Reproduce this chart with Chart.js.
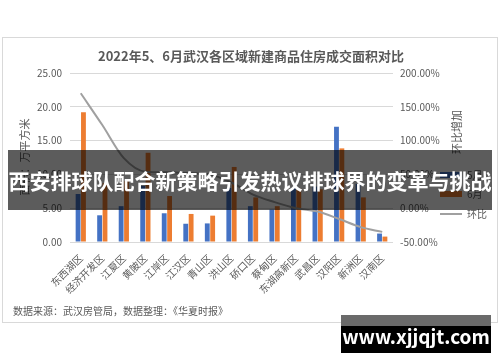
<!DOCTYPE html>
<html>
<head>
<meta charset="utf-8">
<script src="https://cdn.jsdelivr.net/npm/chart.js@4.4.1/dist/chart.umd.min.js"></script>
<style>
  html, body { margin: 0; padding: 0; background: #fff; }
  #wrap { width: 500px; height: 362px; position: relative; }
</style>
</head>
<body>
<div id="wrap"><canvas id="chart" width="500" height="362"></canvas></div>
<script>
// districts, sorted by month-on-month change
const districts = ['东西湖区', '经济开发区', '江夏区', '黄陂区', '江岸区', '江汉区', '青山区', '洪山区',
  '硚口区', '蔡甸区', '东湖高新区', '武昌区', '汉阳区', '新洲区', '汉南区'];
const mayArea = [7.1, 3.95, 5.3, 8.3, 4.25, 2.7, 2.75, 8.0, 5.3, 4.8, 8.0, 8.2, 17.05, 8.6, 1.25];
const juneArea = [19.2, 8.7, 9.0, 13.2, 6.8, 4.15, 3.9, 11.1, 6.6, 5.3, 7.9, 7.8, 13.85, 6.6, 0.8];
const ratioPct = [170, 123, 74, 54, 53, 52, 50, 38, 20, 9, 0, -5, -16, -28, -35];
const leftTicks = [0, 5, 10, 15, 20, 25];
const rightTicks = [-50, 0, 50, 100, 150, 200];

const FONT = '"Noto Sans CJK SC", "Noto Sans", sans-serif';
const TXT = '#595959';
const BLUE = '#4472C4', ORANGE = '#ED7D31', GREY = '#a0a0a0';

// extra drawing: title, axis titles, legend, footer, overlays
const decor = {
    id: 'decor',
    beforeDraw(chart) {
        const c = chart.ctx;
        c.save();
        c.fillStyle = '#fff';
        c.fillRect(0, 0, chart.width, chart.height);
        c.strokeStyle = '#d9d9d9';
        c.lineWidth = 1;
        c.strokeRect(2.5, 37.5, 495, 285);
        c.restore();
    },
    afterDraw(chart) {
        const c = chart.ctx;
        c.save();
        c.fillStyle = TXT;
        c.textBaseline = 'middle';
        c.textAlign = 'center';
        c.font = 'bold 13px ' + FONT;
        c.fillText('2022年5、6月武汉各区域新建商品住房成交面积对比', 251, 56);

        // axis titles
        c.font = '11px ' + FONT;
        c.save();
        c.translate(25, 157);
        c.rotate(-Math.PI / 2);
        c.fillText('面积：万平方米', 0, 0);
        c.restore();
        c.save();
        c.translate(457, 132);
        c.rotate(-Math.PI / 2);
        c.fillText('环比增加', 0, 0);
        c.restore();

        // legend
        c.textAlign = 'left';
        c.font = '10px ' + FONT;
        c.fillStyle = BLUE;
        c.fillRect(440, 172, 22, 6);
        c.fillStyle = ORANGE;
        c.fillRect(440, 191, 22, 6);
        c.strokeStyle = GREY;
        c.lineWidth = 2;
        c.beginPath();
        c.moveTo(440, 214);
        c.lineTo(462, 214);
        c.stroke();
        c.fillStyle = TXT;
        c.fillText('5月', 467, 175);
        c.fillText('6月', 467, 194);
        c.fillText('环比', 467, 214);

        // footer
        c.font = '10px ' + FONT;
        c.fillText('数据来源：武汉房管局，数据整理：《华夏时报》', 13, 311);

        // banner
        c.fillStyle = 'rgba(0,0,0,0.64)';
        c.fillRect(8, 150, 484, 60);
        c.fillStyle = '#fff';
        c.textAlign = 'center';
        c.font = 'bold 21px ' + FONT;
        c.fillText('西安排球队配合新策略引发热议排球界的变革与挑战', 250, 181);

        // watermark
        c.fillStyle = '#000';
        c.fillRect(341, 315, 150, 38);
        c.fillStyle = '#6a6a6a';
        c.fillRect(341, 315, 150, 11);
        c.fillStyle = '#fff';
        c.font = 'bold 19px ' + FONT;
        c.fillText('www.xjjqjt.com', 416, 337);
        c.restore();
    }
};

new Chart(document.getElementById('chart'), {
    type: 'bar',
    data: {
        labels: districts,
        datasets: [
            {
                type: 'line',
                label: '环比',
                data: ratioPct,
                yAxisID: 'y1',
                borderColor: GREY,
                borderWidth: 2,
                pointRadius: 0,
                tension: 0.4,
                cubicInterpolationMode: 'monotone',
                order: 0
            },
            {
                label: '5月',
                data: mayArea,
                backgroundColor: BLUE,
                categoryPercentage: 0.5,
                barPercentage: 0.9,
                order: 1
            },
            {
                label: '6月',
                data: juneArea,
                backgroundColor: ORANGE,
                categoryPercentage: 0.5,
                barPercentage: 0.9,
                order: 1
            }
        ]
    },
    options: {
        responsive: false,
        animation: false,
        layout: { padding: { top: 73, left: 0, right: 0, bottom: 0 } },
        plugins: {
            legend: { display: false },
            title: { display: false },
            tooltip: { enabled: false }
        },
        scales: {
            x: {
                grid: { display: false },
                border: { display: false },
                ticks: {
                    color: TXT,
                    font: { family: FONT, size: 10 },
                    maxRotation: 45,
                    minRotation: 45,
                    autoSkip: false,
                    padding: 2
                },
                afterFit(scale) { scale.height = 120; }
            },
            y: {
                position: 'left',
                min: leftTicks[0],
                max: leftTicks[leftTicks.length - 1],
                grid: { color: '#d9d9d9', drawTicks: false },
                border: { display: false },
                ticks: {
                    stepSize: 5,
                    padding: 8,
                    color: TXT,
                    font: { family: FONT, size: 10 },
                    callback: v => v.toFixed(2)
                },
                afterFit(scale) { scale.width = 70; }
            },
            y1: {
                position: 'right',
                min: rightTicks[0],
                max: rightTicks[rightTicks.length - 1],
                grid: { display: false, drawTicks: false },
                border: { display: false },
                ticks: {
                    stepSize: 50,
                    padding: 7,
                    color: TXT,
                    font: { family: FONT, size: 10 },
                    callback: v => v.toFixed(2) + '%'
                },
                afterFit(scale) { scale.width = 107; }
            }
        }
    },
    plugins: [decor]
});
</script>
</body>
</html>
